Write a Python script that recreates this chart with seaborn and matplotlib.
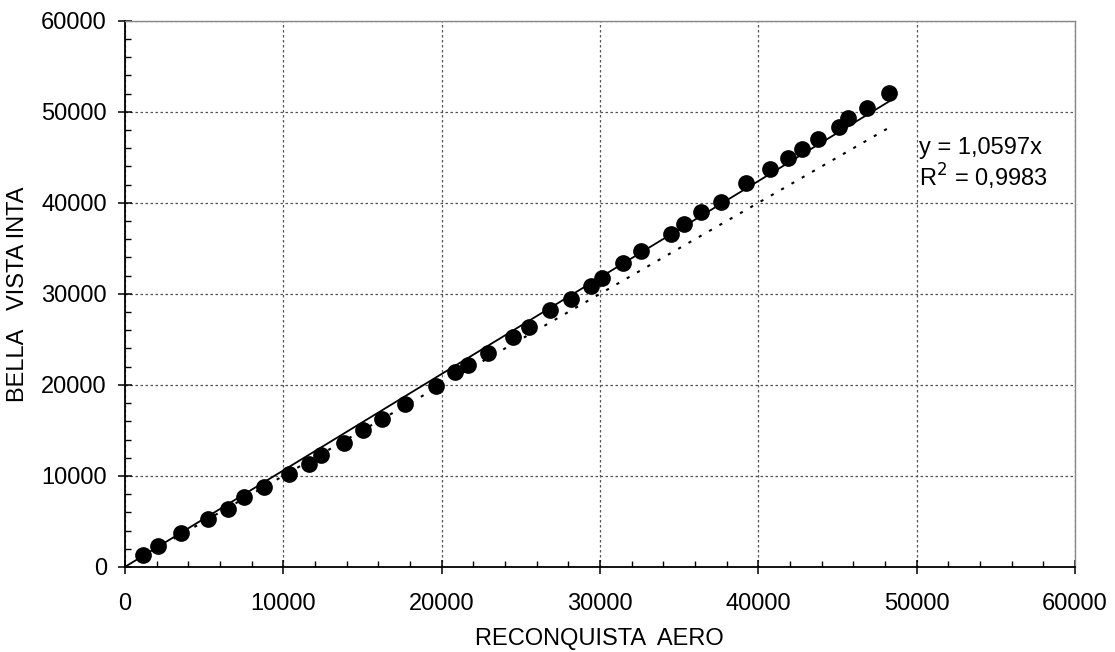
import matplotlib
matplotlib.use("Agg")
import matplotlib.pyplot as plt
import seaborn as sns
import numpy as np
import pandas as pd
from matplotlib.ticker import MultipleLocator

reconquista_aero = [1137, 2085, 3538, 5281, 6507, 7555, 8756, 10335, 11623, 12401,
                    13834, 15010, 16254, 17707, 19646, 20865, 21668, 22906, 24485, 25496,
                    26867, 28174, 29438, 30152, 31459, 32596, 34466, 35288, 36361, 37650,
                    39248, 40764, 41901, 42786, 43797, 45123, 45692, 46892, 48282]
bella_vista_inta = [1319, 2341, 3769, 5242, 6374, 7692, 8758, 10187, 11352, 12308,
                    13659, 15055, 16297, 17912, 19923, 21429, 22198, 23549, 25275, 26341,
                    28209, 29484, 30846, 31791, 33407, 34725, 36626, 37725, 39044, 40143,
                    42198, 43736, 44945, 45934, 47033, 48352, 49341, 50440, 52088]
trend_slope = 1.0597
r_squared = "0,9983"
x_label = "RECONQUISTA  AERO"
y_label = "BELLA   VISTA INTA"

sns.set_style("white")
plt.rcParams['font.family'] = ['Liberation Sans', 'DejaVu Sans']
plt.rcParams['text.color'] = 'black'
plt.rcParams['axes.labelcolor'] = 'black'
plt.rcParams['xtick.color'] = 'black'
plt.rcParams['ytick.color'] = 'black'

df = pd.DataFrame({"x": reconquista_aero, "y": bella_vista_inta})
x_end = max(reconquista_aero)
trend = pd.DataFrame({"x": [0, x_end], "y": [0, trend_slope * x_end]})
ident = pd.DataFrame({"x": [min(reconquista_aero), x_end], "y": [min(reconquista_aero), x_end]})

fig = plt.figure(figsize=(11.15, 6.52), dpi=100)
ax = fig.add_axes([0.112, 0.1305, 0.852, 0.8375])

sns.lineplot(data=ident, x="x", y="y", ax=ax, color="black", linestyle=(0, (1.5, 4.2)),
             linewidth=1.5, zorder=2)
sns.lineplot(data=trend, x="x", y="y", ax=ax, color="black", linewidth=1.3, zorder=3)
sns.scatterplot(data=df, x="x", y="y", ax=ax, color="black", s=145, edgecolor="black",
                linewidth=0, zorder=4)

ax.set_xlim(0, 60000)
ax.set_ylim(0, 60000)
ax.xaxis.set_major_locator(MultipleLocator(10000))
ax.yaxis.set_major_locator(MultipleLocator(10000))
ax.xaxis.set_minor_locator(MultipleLocator(2000))
ax.yaxis.set_minor_locator(MultipleLocator(2000))
ax.grid(True, which="major", color="#555555", linestyle=(0, (2, 2)), linewidth=0.9)
ax.set_axisbelow(True)

for s in ["left", "bottom"]:
    ax.spines[s].set_color("black")
    ax.spines[s].set_linewidth(1.3)
for s in ["top", "right"]:
    ax.spines[s].set_color("#888888")
    ax.spines[s].set_linewidth(1.0)

ax.tick_params(axis="both", which="major", direction="inout", length=10, width=1.1,
               labelsize=17, colors="black", bottom=True, left=True)
ax.tick_params(axis="x", which="major", pad=14)
ax.tick_params(axis="y", which="major", pad=8)
ax.tick_params(axis="both", which="minor", direction="in", length=4.5, width=1.0,
               bottom=True, left=True, colors="black")

ax.set_xlabel(x_label, fontsize=17, labelpad=9)
ax.set_ylabel(y_label, fontsize=17, labelpad=9)

ax.text(0.836, 0.767, f"y = {trend_slope:.4f}x".replace(".", ","), transform=ax.transAxes,
        fontsize=17, va="center", ha="left")
ax.text(0.836, 0.714, "R$^{2}$ = " + r_squared, transform=ax.transAxes,
        fontsize=17, va="center", ha="left")

fig.savefig("out.png", dpi=100)
